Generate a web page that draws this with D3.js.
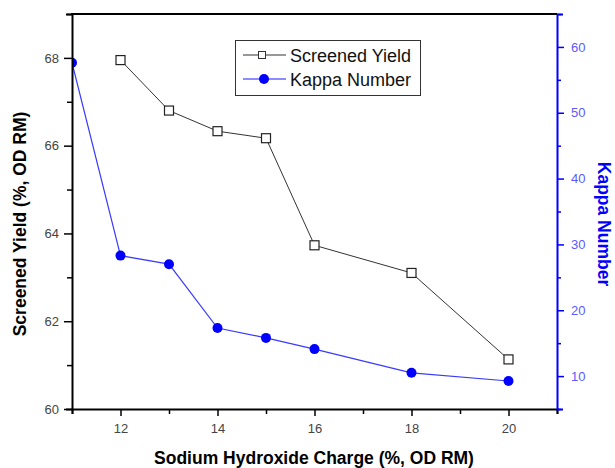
<!DOCTYPE html>
<html><head><meta charset="utf-8">
<script src="https://cdn.jsdelivr.net/npm/d3@7"></script>
<style>body{margin:0;background:#fff;} svg{display:block;font-family:"Liberation Sans",Arial,sans-serif;}</style>
</head><body><svg id="c" width="615" height="468"></svg>
<script>
const charge = [12, 13, 14, 15, 16, 18, 20];
const screenedYield = [67.95, 66.8, 66.33, 66.17, 63.73, 63.1, 61.13];
const kappaCharge = [11, 12, 13, 14, 15, 16, 18, 20];
const kappaNumber = [57.6, 28.3, 27.0, 17.3, 15.8, 14.1, 10.5, 9.25];
const xTicks = [12, 14, 16, 18, 20];
const yTicks = [60, 62, 64, 66, 68];
const kTicks = [10, 20, 30, 40, 50, 60];

const svg = d3.select("#c");
const m = {l:72, r:557, t:14, b:409};
const x = d3.scaleLinear().domain([11, 21]).range([m.l, m.r]);
const y = d3.scaleLinear().domain([60, 69]).range([m.b, m.t]);
const k = d3.scaleLinear().domain([5, 65]).range([m.b, m.t]);

svg.append("defs").append("clipPath").attr("id","pc").append("rect")
  .attr("x",m.l).attr("y",m.t-10).attr("width",m.r-m.l+10).attr("height",m.b-m.t+10);
const plot = svg.append("g").attr("clip-path","url(#pc)");

// lines
const ylData = charge.map((c,i)=>[c, screenedYield[i]]);
const kData = kappaCharge.map((c,i)=>[c, kappaNumber[i]]);
plot.append("path").datum(ylData).attr("fill","none").attr("stroke","#333").attr("stroke-width",1)
  .attr("d", d3.line().x(d=>x(d[0])).y(d=>y(d[1])));
plot.append("path").datum(kData).attr("fill","none").attr("stroke","#3a3aff").attr("stroke-width",1.2)
  .attr("d", d3.line().x(d=>x(d[0])).y(d=>k(d[1])));
plot.selectAll(".sq").data(ylData).enter().append("rect")
  .attr("x", d=>x(d[0])-4.5).attr("y", d=>y(d[1])-4.5).attr("width",9).attr("height",9)
  .attr("fill","#fff").attr("stroke","#222").attr("stroke-width",1.2);
plot.selectAll(".ci").data(kData).enter().append("circle")
  .attr("cx", d=>x(d[0])).attr("cy", d=>k(d[1])).attr("r",5).attr("fill","#0000ff");

// axes
const gx = svg.append("g").attr("transform",`translate(0,${m.b})`)
  .call(d3.axisBottom(x).tickValues(d3.range(11,21.01,1)).tickSize(5).tickFormat(d=>xTicks.includes(d)?d:""));
gx.select(".domain").attr("stroke","#000").attr("stroke-width",2);
gx.selectAll(".tick line").attr("stroke","#000").attr("stroke-width",1.5).attr("y2", d=>xTicks.includes(d)?7:5);
gx.selectAll(".tick text").attr("font-size",13).attr("fill","#444").attr("y",15).attr("dy","0.71em");

const gy = svg.append("g").attr("transform",`translate(${m.l},0)`)
  .call(d3.axisLeft(y).tickValues(d3.range(60,69.01,1)).tickSize(6).tickFormat(d=>yTicks.includes(d)?d:""));
gy.select(".domain").attr("stroke","#000").attr("stroke-width",2);
gy.selectAll(".tick line").attr("stroke","#000").attr("stroke-width",1.5).attr("x2", d=>yTicks.includes(d)?-8:-5);
gy.selectAll(".tick text").attr("font-size",13).attr("fill","#444").attr("x",-13);

const gk = svg.append("g").attr("transform",`translate(${m.r},0)`)
  .call(d3.axisRight(k).tickValues(d3.range(5,65.01,5)).tickSize(6).tickFormat(d=>kTicks.includes(d)?d:""));
gk.select(".domain").attr("stroke","#0000ff").attr("stroke-width",2);
gk.selectAll(".tick line").attr("stroke","#0000ff").attr("stroke-width",1.5).attr("x2", d=>kTicks.includes(d)?7:4);
gk.selectAll(".tick text").attr("font-size",13).attr("fill","#5a5aff").attr("x",14);

svg.append("line").attr("x1",m.l-1).attr("x2",m.r).attr("y1",m.t).attr("y2",m.t).attr("stroke","#000").attr("stroke-width",2);

// titles
svg.append("text").attr("x",314).attr("y",464).attr("text-anchor","middle")
  .attr("font-size",17.5).attr("font-weight","bold").attr("fill","#000").text("Sodium Hydroxide Charge (%, OD RM)");
svg.append("text").attr("transform",`translate(26,224) rotate(-90)`).attr("text-anchor","middle")
  .attr("font-size",17.5).attr("font-weight","bold").attr("fill","#000").text("Screened Yield (%, OD RM)");
svg.append("text").attr("transform",`translate(598,224) rotate(90)`).attr("text-anchor","middle")
  .attr("font-size",17.5).attr("font-weight","bold").attr("fill","#0000ff").text("Kappa Number");

// legend
const lg = svg.append("g");
lg.append("rect").attr("x",235.5).attr("y",40.5).attr("width",185).attr("height",55).attr("fill","#fff").attr("stroke","#333").attr("stroke-width",1);
lg.append("line").attr("x1",243).attr("x2",286).attr("y1",55).attr("y2",55).attr("stroke","#333");
lg.append("rect").attr("x",258.5).attr("y",51.5).attr("width",7).attr("height",7).attr("fill","#fff").attr("stroke","#333");
lg.append("text").attr("x",290).attr("y",62).attr("font-size",18).attr("fill","#111").text("Screened Yield");
lg.append("line").attr("x1",243).attr("x2",286).attr("y1",79).attr("y2",79).attr("stroke","#6666ff").attr("stroke-width",1.5);
lg.append("circle").attr("cx",264).attr("cy",79).attr("r",5).attr("fill","#0000ff");
lg.append("text").attr("x",290).attr("y",86).attr("font-size",18).attr("fill","#111").text("Kappa Number");
</script></body></html>
